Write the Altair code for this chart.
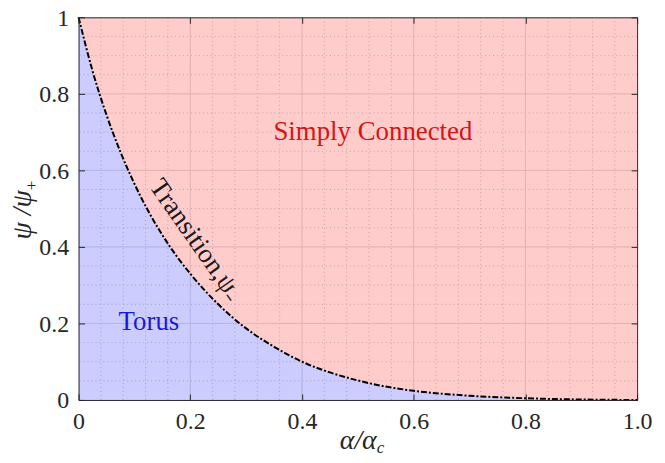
import altair as alt
import pandas as pd

# ---- data ----
alpha = [0.0, 0.025, 0.05, 0.075, 0.1, 0.125, 0.15, 0.175, 0.2, 0.25, 0.3, 0.35,
         0.4, 0.45, 0.5, 0.55, 0.6, 0.7, 0.8, 0.9, 1.0]
psi = [1.0, 0.86, 0.745, 0.648, 0.565, 0.493, 0.431, 0.377, 0.33, 0.25, 0.187, 0.139,
       0.10, 0.072, 0.051, 0.035, 0.024, 0.011, 0.0045, 0.0012, 0.0]

x_tick_values = [0.0, 0.2, 0.4, 0.6, 0.8, 1.0]
x_tick_labels = ["0", "0.2", "0.4", "0.6", "0.8", "1.0"]
y_tick_values = [0.0, 0.2, 0.4, 0.6, 0.8, 1.0]
y_tick_labels = ["0", "0.2", "0.4", "0.6", "0.8", "1"]

x_major = [0.2, 0.4, 0.6, 0.8]
x_minor = [0.04, 0.08, 0.12, 0.16, 0.24, 0.28, 0.32, 0.36, 0.44, 0.48, 0.52, 0.56,
           0.64, 0.68, 0.72, 0.76, 0.84, 0.88, 0.92, 0.96]
y_major = [0.2, 0.4, 0.6, 0.8]
y_minor = [0.05, 0.1, 0.15, 0.25, 0.3, 0.35, 0.45, 0.5, 0.55, 0.65, 0.7, 0.75,
           0.85, 0.9, 0.95]

label_text = ["Simply Connected", "Torus", "Transition,ψ₋"]
label_x = [0.527, 0.126, 0.21]
label_y = [0.70, 0.203, 0.418]

W, H = 562, 385
FONT = "Liberation Serif"
AX = "#262626"

curve = pd.DataFrame({"a": alpha, "p": psi})
xs = alt.Scale(domain=[0, 1], nice=False, zero=False)
ys = alt.Scale(domain=[0, 1], nice=False, zero=False)


def label_expr(values, labels):
    expr = "''"
    for v, l in zip(reversed(values), reversed(labels)):
        expr = f"abs(datum.value - {v}) < 1e-6 ? '{l}' : ({expr})"
    return expr


# grid
def vrules(vals, dash, color):
    return alt.Chart(pd.DataFrame({"v": vals})).mark_rule(
        color=color, strokeWidth=1, strokeDash=dash
    ).encode(x=alt.X("v:Q", scale=xs, axis=None))


def hrules(vals, dash, color):
    return alt.Chart(pd.DataFrame({"v": vals})).mark_rule(
        color=color, strokeWidth=1, strokeDash=dash
    ).encode(y=alt.Y("v:Q", scale=ys, axis=None))


grid = (vrules(x_minor, [1, 3], "#c8c8c8") + hrules(y_minor, [1, 3], "#c8c8c8")
        + vrules(x_major, [1, 0], "#dadada") + hrules(y_major, [1, 0], "#dadada"))

# blue area (Torus) with main labelled axes
blue = alt.Chart(curve).mark_area(color="#0000ff", opacity=0.2, interpolate="monotone").encode(
    x=alt.X("a:Q", scale=xs, axis=alt.Axis(
        orient="bottom", values=x_tick_values, labelExpr=label_expr(x_tick_values, x_tick_labels),
        ticks=False, grid=False, title=None, domain=True, domainColor=AX,
        labelFont=FONT, labelFontSize=24, labelColor=AX, labelPadding=10, zindex=2,
        labelFlush=False)),
    y=alt.Y("p:Q", scale=ys, axis=alt.Axis(
        orient="left", values=y_tick_values, labelExpr=label_expr(y_tick_values, y_tick_labels),
        ticks=False, grid=False, title=None, domain=True, domainColor=AX,
        labelFont=FONT, labelFontSize=24, labelColor=AX, labelPadding=10, zindex=2,
        labelFlush=False, labelOffset=1)),
    y2=alt.datum(0),
)

# red area (Simply Connected) with inward ticks on bottom/left edges
red = alt.Chart(curve).mark_area(color="#ff0000", opacity=0.2, interpolate="monotone").encode(
    x=alt.X("a:Q", scale=xs, axis=alt.Axis(
        orient="top", offset=-H, values=x_tick_values, labels=False, ticks=True,
        tickSize=6, tickColor=AX, domain=False, grid=False, title=None, zindex=2)),
    y=alt.Y("p:Q", scale=ys, axis=alt.Axis(
        orient="right", offset=-W, values=y_tick_values, labels=False, ticks=True,
        tickSize=6, tickColor=AX, domain=False, grid=False, title=None, zindex=2)),
    y2=alt.datum(1),
)

# transition curve, with inward ticks + domain on top/right edges
line = alt.Chart(curve).mark_line(
    color="black", strokeWidth=2, strokeDash=[6, 2, 2, 2], interpolate="monotone"
).encode(
    x=alt.X("a:Q", scale=xs, axis=alt.Axis(
        orient="bottom", offset=-H, values=x_tick_values, labels=False, ticks=True,
        tickSize=6, tickColor=AX, domain=True, domainColor=AX, grid=False, title=None, zindex=2)),
    y=alt.Y("p:Q", scale=ys, axis=alt.Axis(
        orient="left", offset=-W, values=y_tick_values, labels=False, ticks=True,
        tickSize=6, tickColor=AX, domain=True, domainColor=AX, grid=False, title=None, zindex=2)),
)

labels_df = pd.DataFrame({"x": label_x, "y": label_y, "t": label_text})


def annot(i, color, angle=0):
    return alt.Chart(labels_df.iloc[[i]]).mark_text(
        font=FONT, fontSize=27, color=color, angle=angle, align="center", baseline="middle"
    ).encode(
        x=alt.X("x:Q", scale=xs, axis=None),
        y=alt.Y("y:Q", scale=ys, axis=None),
        text="t:N",
    )


texts = annot(0, "#d41515") + annot(1, "#1a1ad0") + annot(2, "#1a1a1a", 55)

one = pd.DataFrame({"k": [0]})


def title_text(txt, x, y, size, angle=0, align="center", style="italic"):
    return alt.Chart(one).mark_text(
        text=txt, font=FONT, fontSize=size, fontStyle=style, color=AX, angle=angle,
        align=align, baseline="alphabetic"
    ).encode(x=alt.value(x), y=alt.value(y))


titles = (
    title_text("α/α", 300, 434, 28, align="right")
    + title_text("c", 300, 438, 17, align="left")
    + title_text("ψ /ψ", -48, 174, 28, angle=270, align="right")
    + title_text("+", -42, 174, 17, angle=270, align="left", style="normal")
)

chart = alt.layer(grid, blue, red, line, texts, titles).resolve_axis(
    x="independent", y="independent"
).properties(
    width=W, height=H,
    autosize=alt.AutoSizeParams(type="none"),
    padding={"left": 71, "top": 8, "right": 20, "bottom": 54},
).configure_view(stroke=None)

chart.save("out.html", embed_options={"renderer": "svg", "actions": False})
